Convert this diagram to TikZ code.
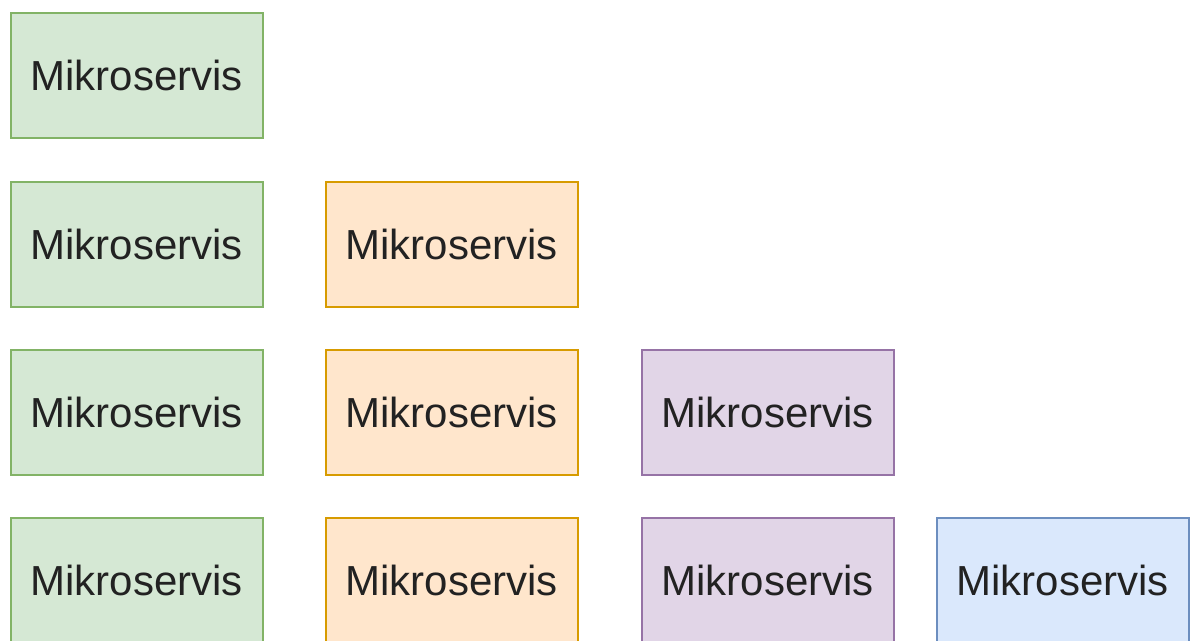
\documentclass[tikz,border=0pt]{standalone}
\usepackage{fontspec}
\setmainfont{Liberation Sans}
\definecolor{gfill}{HTML}{D5E8D4}\definecolor{gline}{HTML}{82B366}
\definecolor{ofill}{HTML}{FFE6CC}\definecolor{oline}{HTML}{D79B00}
\definecolor{pfill}{HTML}{E1D5E7}\definecolor{pline}{HTML}{9673A6}
\definecolor{bfill}{HTML}{DAE8FC}\definecolor{bline}{HTML}{6C8EBF}
\definecolor{txt}{HTML}{222222}
\begin{document}
\begin{tikzpicture}[x=1pt,y=-1pt,
  svc/.style={draw, line width=1.6pt, minimum width=252pt, minimum height=125pt,
    inner sep=0pt, anchor=north west, font=\fontsize{42}{48}\selectfont, text=txt},
  green/.style={svc, fill=gfill, draw=gline},
  orange/.style={svc, fill=ofill, draw=oline},
  purple/.style={svc, fill=pfill, draw=pline},
  blue/.style={svc, fill=bfill, draw=bline}]
\useasboundingbox (0,0) rectangle (1190,640);
\clip (0,0) rectangle (1190,640);
\node[green] (g1) at (10,12) {Mikroservis};
\node[green] (g2) at (10,181) {Mikroservis};
\node[green] (g3) at (10,349) {Mikroservis};
\node[green] (g4) at (10,517) {Mikroservis};
\node[orange] (o2) at (325,181) {Mikroservis};
\node[orange] (o3) at (325,349) {Mikroservis};
\node[orange] (o4) at (325,517) {Mikroservis};
\node[purple] (p3) at (641,349) {Mikroservis};
\node[purple] (p4) at (641,517) {Mikroservis};
\node[blue] (b4) at (936,517) {Mikroservis};
\end{tikzpicture}
\end{document}
